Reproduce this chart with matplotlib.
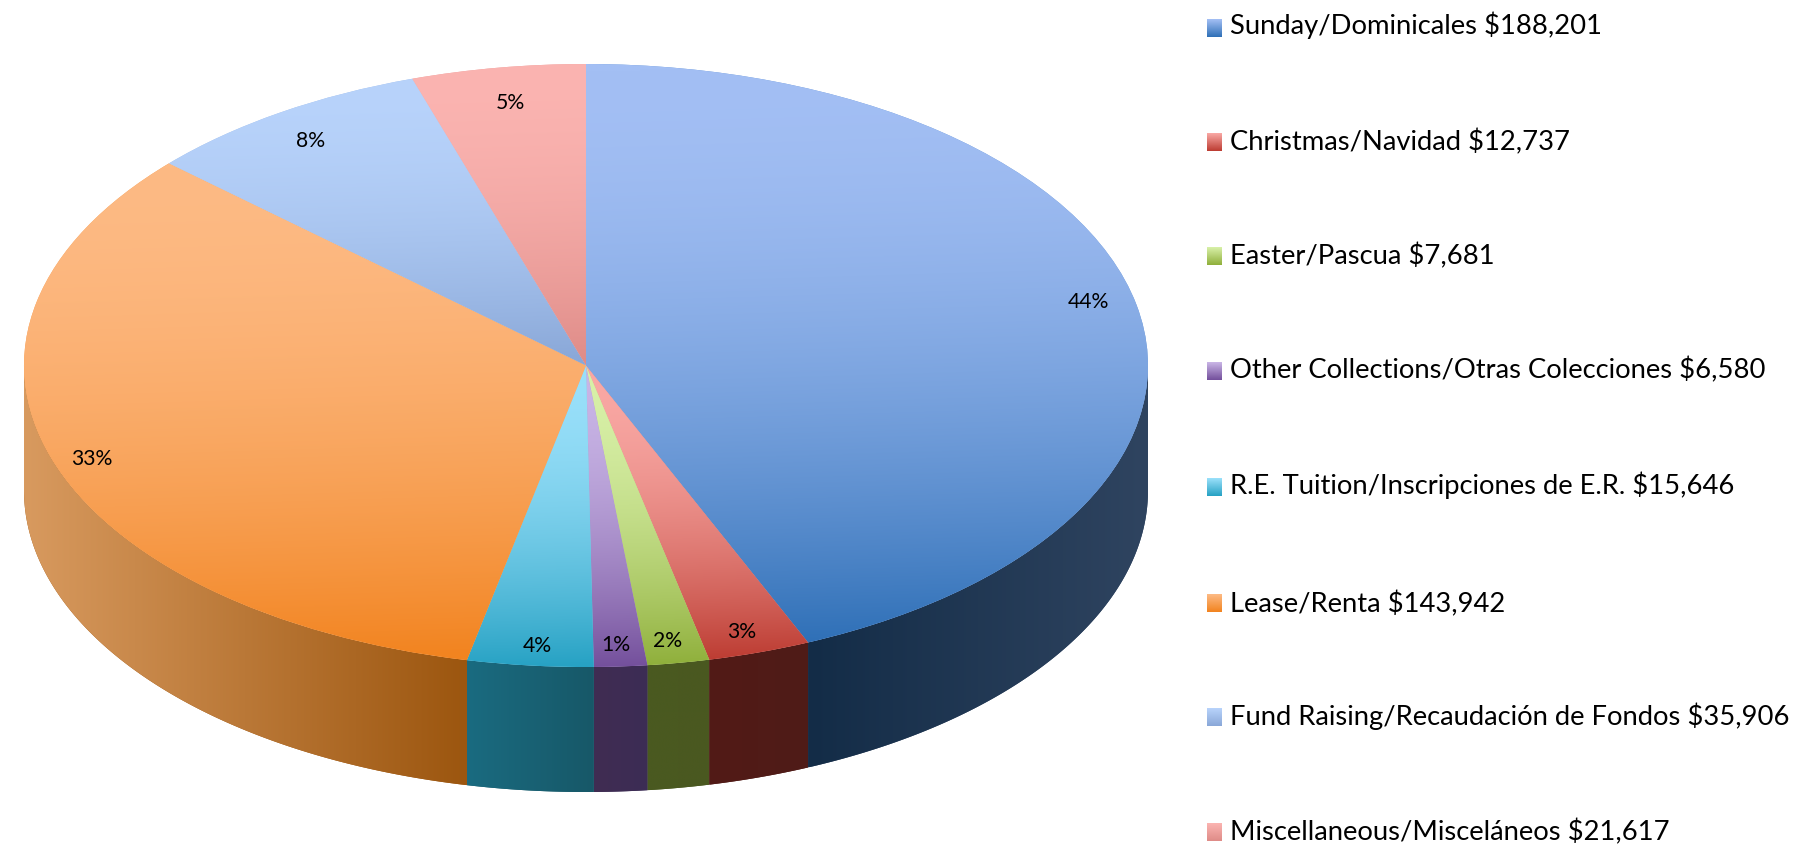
import numpy as np
import matplotlib
matplotlib.use("Agg")
import matplotlib.pyplot as plt
from matplotlib.colors import to_rgb
from matplotlib.patches import Polygon

# ---- data ----
categories = ["Sunday/Dominicales", "Christmas/Navidad", "Easter/Pascua",
              "Other Collections/Otras Colecciones", "R.E. Tuition/Inscripciones de E.R.",
              "Lease/Renta", "Fund Raising/Recaudación de Fondos", "Miscellaneous/Misceláneos"]
values = [188201, 12737, 7681, 6580, 15646, 143942, 35906, 21617]
pct_labels = ["44%", "3%", "2%", "1%", "4%", "33%", "8%", "5%"]

# ---- styles ----
top_light = ["#a3bff4", "#f9a8a4", "#d8f0a8", "#c9b5e6", "#9ae0fa", "#fdba84", "#b8d3fb", "#fbb4b1"]
top_dark  = ["#2f70b7", "#bd3d33", "#90b03c", "#74509c", "#27a2c4", "#f28420", "#8aa8d8", "#df8c88"]
side_left  = ["#132c47", "#521a16", "#4a5a20", "#402c52", "#1a6b80", "#d89a5f", "#5a7aa8", "#a05a58"]
side_right = ["#2f4460", "#4f1c18", "#4a5820", "#3c2d55", "#175868", "#9c560f", "#5a7aa8", "#a05a58"]
label_radius = [0.91, 0.91, 0.90, 0.93, 0.92, 0.93, 0.90, 0.88]
label_nudge = [(2, -8), (-2, 6), (-2, 8), (-2, 0), (3, 5), (3, 8), (0, 3), (2, 0)]  # px: right, down
swatch_y = [28, 142, 256, 371, 487, 603, 717, 832]
text_y = [34, 150, 264, 378, 494, 612, 725, 840]

W, H = 1802, 849
CX, RX, TOP, RY, DEPTH = 586, 562, 64, 301.5, 125
d = DEPTH / RY
GAMMA = 1.8

plt.rcParams['font.family'] = ['Lato', 'DejaVu Sans']
fig = plt.figure(figsize=(W / 100, H / 100), dpi=100)
ax = fig.add_axes([(CX - RX) / W, 1 - (TOP + 2 * RY + DEPTH) / H, 2 * RX / W, (2 * RY + DEPTH) / H])

wedges, _ = ax.pie(values, startangle=90, counterclock=False, radius=1,
                   colors=[tuple((np.array(to_rgb(a)) + np.array(to_rgb(b))) / 2) for a, b in zip(top_light, top_dark)],
                   wedgeprops=dict(linewidth=0))


def gradient(c0, c1, ext, axis):
    """Gradient image; ext is x0,x1,y0,y1 in data units."""
    x0, x1, y0, y1 = ext
    pw, ph = (x1 - x0) * RX, (y1 - y0) * RY
    n = 256
    xx, yy = np.meshgrid(np.linspace(0, 1, n), np.linspace(0, 1, n))
    if axis == 'v':
        t = np.clip(yy + 0.03 * (xx - 0.5) * pw / max(ph, 1), 0, 1) ** GAMMA
    else:
        t = xx
    a, b = np.array(to_rgb(c0)), np.array(to_rgb(c1))
    return a + (b - a) * t[..., None]


fracs = np.array(values) / np.sum(values)
edges = np.concatenate([[0], np.cumsum(fracs)]) * 2 * np.pi

for i, w in enumerate(wedges):
    a, b = edges[i], edges[i + 1]
    # side wall, only the front half of the rim is seen
    lo, hi = max(a, np.pi / 2), min(b, 3 * np.pi / 2)
    if hi > lo:
        t = np.linspace(lo, hi, 200)
        xs, ys = np.sin(t), np.cos(t)
        poly = Polygon(np.r_[np.c_[xs, ys], np.c_[xs, ys - d][::-1]], closed=True,
                       facecolor=side_right[i], edgecolor='none', zorder=1)
        ax.add_patch(poly)
        ext = (xs.min(), xs.max(), (ys - d).min(), ys.max())
        im = ax.imshow(gradient(side_left[i], side_right[i], ext, 'h'), extent=ext,
                       aspect='auto', origin='upper', zorder=2, interpolation='bilinear')
        im.set_clip_path(poly)
    # top face
    t = np.linspace(a, b, 300)
    xs = np.r_[np.sin(t), 0]
    ys = np.r_[np.cos(t), 0]
    ext = (xs.min(), xs.max(), ys.min(), ys.max())
    w.set_zorder(3)
    im = ax.imshow(gradient(top_light[i], top_dark[i], ext, 'v'), extent=ext,
                   aspect='auto', origin='upper', zorder=4, interpolation='bilinear')
    im.set_clip_path(w)
    # percent label
    m = (a + b) / 2
    ax.annotate(pct_labels[i], (label_radius[i] * np.sin(m), label_radius[i] * np.cos(m)),
                xytext=(label_nudge[i][0], -label_nudge[i][1]), textcoords='offset pixels',
                ha='center', va='center', fontsize=15.2, color='black', zorder=6)

ax.set_aspect('auto')
ax.set_xlim(-1, 1)
ax.set_ylim(-1 - d, 1)
ax.set_axis_off()

# legend, in pixel coordinates
lg = fig.add_axes([0, 0, 1, 1], facecolor='none')
lg.set_axis_off()
for i, c in enumerate(categories):
    y = swatch_y[i]
    g = np.linspace(0, 1, 32)[:, None, None]
    a, b = np.array(to_rgb(top_light[i])), np.array(to_rgb(top_dark[i]))
    lg.imshow(a + (b - a) * g, extent=(1207, 1222, y + 9, y - 9), aspect='auto', zorder=2)
    lg.text(1230, text_y[i], f"{c} ${values[i]:,}", fontsize=19.7, va='baseline', ha='left', color='black')
lg.set_xlim(0, W)
lg.set_ylim(H, 0)

fig.savefig("out.png", dpi=100, facecolor='white')
